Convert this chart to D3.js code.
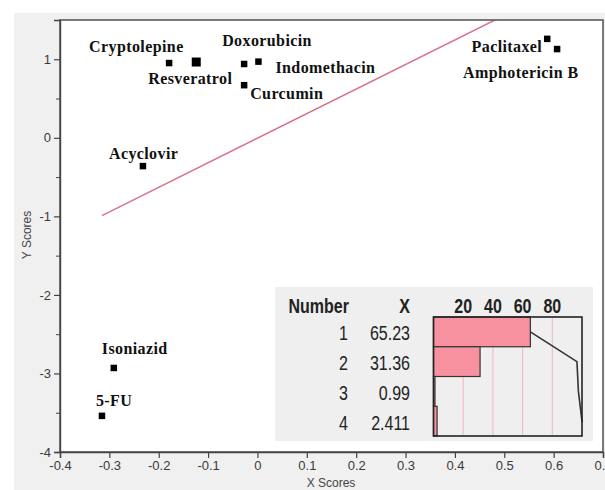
<!DOCTYPE html>
<html>
<head>
<meta charset="utf-8">
<script src="https://cdn.jsdelivr.net/npm/d3@7"></script>
<style>
  html, body { margin: 0; padding: 0; background: #fff; }
  svg { display: block; }
</style>
</head>
<body>
<svg id="chart" width="605" height="490"></svg>
<script>
// ---- data ----
const compounds = ["Cryptolepine", "Resveratrol", "Doxorubicin", "Indomethacin", "Curcumin",
                   "Paclitaxel", "Amphotericin B", "Acyclovir", "Isoniazid", "5-FU"];
const xScores = [-0.179, -0.124, -0.027, 0.002, -0.027, 0.587, 0.607, -0.232, -0.291, -0.315];
const yScores = [0.952, 0.965, 0.94, 0.97, 0.67, 1.26, 1.13, -0.36, -2.93, -3.54];
const refLineX = [-0.315, 0.481];
const refLineY = [-0.99, 1.5];
const xTicks = [-0.4, -0.3, -0.2, -0.1, 0, 0.1, 0.2, 0.3, 0.4, 0.5, 0.6, 0.7];
const yTicks = [-4, -3, -2, -1, 0, 1];
const yMinorTicks = [-3.5, -2.5, -1.5, -0.5, 0.5];
const factorNumbers = [1, 2, 3, 4];
const factorX = [65.23, 31.36, 0.99, 2.411];
const factorXLabels = ["65.23", "31.36", "0.99", "2.411"];
const pctTicks = [20, 40, 60, 80];

// ---- layout (styles/positions) ----
const svg = d3.select("#chart");
const W = 605, H = 490;
const plot = { left: 60, right: 603, top: 20, bottom: 452 };

// label offsets relative to marker (px)
const labelOffset = {
  "Cryptolepine": [-80, -11, "start"],
  "Resveratrol": [-48, 22, "start"],
  "Doxorubicin": [-22, -18, "start"],
  "Indomethacin": [17, 11, "start"],
  "Curcumin": [6, 14, "start"],
  "Paclitaxel": [-5, 13, "end"],
  "Amphotericin B": [-94, 29, "start"],
  "Acyclovir": [-34, -7, "start"],
  "Isoniazid": [-12, -14, "start"],
  "5-FU": [-6, -10, "start"]
};
const markerSize = { "Resveratrol": 9 };
const hy = s => s.replace(/\u2212/g, "-");

// background
svg.append("rect").attr("x", 0).attr("y", 0).attr("width", W).attr("height", H).attr("fill", "#ffffff");
svg.append("rect").attr("x", 14).attr("y", 13).attr("width", W - 14).attr("height", H - 13).attr("fill", "#f0f0f0");
svg.append("rect").attr("x", plot.left).attr("y", plot.top)
  .attr("width", plot.right - plot.left).attr("height", plot.bottom - plot.top)
  .attr("fill", "#ffffff");

const x = d3.scaleLinear().domain([-0.4, 0.7]).range([plot.left, plot.right]);
const y = d3.scaleLinear().domain([-4, 1.5]).range([plot.bottom, plot.top]);

// clip
svg.append("clipPath").attr("id", "plotclip").append("rect")
  .attr("x", plot.left).attr("y", plot.top)
  .attr("width", plot.right - plot.left).attr("height", plot.bottom - plot.top);

// reference line
svg.append("line")
  .attr("clip-path", "url(#plotclip)")
  .attr("x1", x(refLineX[0])).attr("y1", y(refLineY[0]))
  .attr("x2", x(refLineX[1])).attr("y2", y(refLineY[1]))
  .attr("stroke", "#d8718a").attr("stroke-width", 1.4);

// frame
svg.append("rect").attr("x", plot.left).attr("y", plot.top)
  .attr("width", plot.right - plot.left).attr("height", plot.bottom - plot.top)
  .attr("fill", "none").attr("stroke", "#5a5a5a").attr("stroke-width", 1.6);

// axes
const xAxis = d3.axisBottom(x).tickValues(xTicks).tickSize(6).tickPadding(3)
  .tickFormat(d => d === 0 ? "0" : hy(d3.format(".1f")(d)));
const gx = svg.append("g").attr("transform", `translate(0,${plot.bottom})`).call(xAxis);
gx.select(".domain").attr("stroke", "#444").attr("stroke-width", 1.4);
gx.selectAll(".tick line").attr("stroke", "#444").attr("stroke-width", 1.2);
gx.selectAll(".tick text").attr("font-family", "Liberation Sans, Arial, sans-serif")
  .attr("font-size", 13).attr("fill", "#3a3a3a");

const yAxis = d3.axisLeft(y).tickValues(yTicks).tickSize(6).tickPadding(3).tickFormat(d => hy(d3.format("d")(d)));
const gy = svg.append("g").attr("transform", `translate(${plot.left},0)`).call(yAxis);
gy.select(".domain").attr("stroke", "#444").attr("stroke-width", 1.4);
gy.selectAll(".tick line").attr("stroke", "#444").attr("stroke-width", 1.2);
gy.selectAll(".tick text").attr("font-family", "Liberation Sans, Arial, sans-serif")
  .attr("font-size", 13).attr("fill", "#3a3a3a");

const yMinor = d3.axisLeft(y).tickValues(yMinorTicks).tickSize(4).tickFormat("");
const gym = svg.append("g").attr("transform", `translate(${plot.left},0)`).call(yMinor);
gym.select(".domain").remove();
gym.selectAll(".tick line").attr("stroke", "#444").attr("stroke-width", 1);

// axis titles
svg.append("text").attr("transform", `translate(31,235) rotate(-90)`)
  .attr("text-anchor", "middle").attr("font-family", "Liberation Sans, Arial, sans-serif")
  .attr("font-size", 12).attr("fill", "#444").text("Y Scores");
svg.append("text").attr("x", 331).attr("y", 487)
  .attr("text-anchor", "middle").attr("font-family", "Liberation Sans, Arial, sans-serif")
  .attr("font-size", 12).attr("fill", "#444").text("X Scores");

// points
const pts = compounds.map((c, i) => ({ name: c, xv: xScores[i], yv: yScores[i] }));
svg.append("g").selectAll("rect").data(pts).join("rect")
  .attr("x", d => x(d.xv) - (markerSize[d.name] || 6.5) / 2)
  .attr("y", d => y(d.yv) - (markerSize[d.name] || 6.5) / 2)
  .attr("width", d => markerSize[d.name] || 6.5)
  .attr("height", d => markerSize[d.name] || 6.5)
  .attr("fill", "#000");

svg.append("g").selectAll("text").data(pts).join("text")
  .attr("x", d => x(d.xv) + labelOffset[d.name][0])
  .attr("y", d => y(d.yv) + labelOffset[d.name][1])
  .attr("text-anchor", d => labelOffset[d.name][2])
  .attr("font-family", "Liberation Serif, Times New Roman, serif")
  .attr("font-weight", "bold").attr("font-size", 16).attr("letter-spacing", 0.4).attr("fill", "#111")
  .text(d => d.name);

// ---- inset table ----
const inset = { x: 275, y: 287, w: 318, h: 154 };
svg.append("rect").attr("x", inset.x).attr("y", inset.y).attr("width", inset.w).attr("height", inset.h)
  .attr("fill", "#efefef");

const tfont = "Liberation Sans, Arial, sans-serif";
const sx = 0.8;
const box = { left: 433.5, right: 582, top: 317, bottom: 436 };
const px = d3.scaleLinear().domain([0, 100]).range([box.left, box.right]);
const band = d3.scaleBand().domain(factorNumbers).range([box.top, box.bottom]);

function ntext(g, tx, ty, anchor, bold, str) {
  g.append("text").attr("transform", `translate(${tx},${ty}) scale(${sx},1)`)
    .attr("text-anchor", anchor).attr("font-family", tfont)
    .attr("font-weight", bold ? "bold" : "normal").attr("font-size", 20).attr("fill", "#222").text(str);
}
const tg = svg.append("g");
ntext(tg, 349, 313, "end", true, "Number");
ntext(tg, 410, 313, "end", true, "X");
pctTicks.forEach(d => ntext(tg, px(d), 313, "middle", true, String(d)));

const rows = factorNumbers.map((n, i) => ({ n, v: factorX[i], lab: factorXLabels[i] }));
rows.forEach(d => {
  const by = band(d.n) + band.bandwidth() / 2 + 8.5;
  ntext(tg, 348, by, "end", false, String(d.n));
  ntext(tg, 410, by, "end", false, d.lab);
});

// grid lines
svg.append("g").selectAll("line").data(pctTicks).join("line")
  .attr("x1", d => px(d)).attr("x2", d => px(d)).attr("y1", box.top).attr("y2", box.bottom)
  .attr("stroke", "#f0a8b4").attr("stroke-width", 0.8);

// bars
svg.append("g").selectAll("rect").data(rows).join("rect")
  .attr("x", px(0)).attr("y", d => band(d.n))
  .attr("width", d => px(d.v) - px(0)).attr("height", band.bandwidth())
  .attr("fill", "#f7909f").attr("stroke", "#333").attr("stroke-width", 1.2);

// cumulative line
let cum = 0;
const cumPts = rows.map(d => { cum += d.v; return [px(cum), band(d.n) + band.bandwidth() / 2]; });
cumPts.push([px(cum), box.bottom - 14]);
svg.append("path").attr("d", d3.line()(cumPts)).attr("fill", "none")
  .attr("stroke", "#333").attr("stroke-width", 1.6);

// box
svg.append("rect").attr("x", box.left).attr("y", box.top)
  .attr("width", box.right - box.left).attr("height", box.bottom - box.top)
  .attr("fill", "none").attr("stroke", "#222").attr("stroke-width", 1.6);
</script>
</body>
</html>
